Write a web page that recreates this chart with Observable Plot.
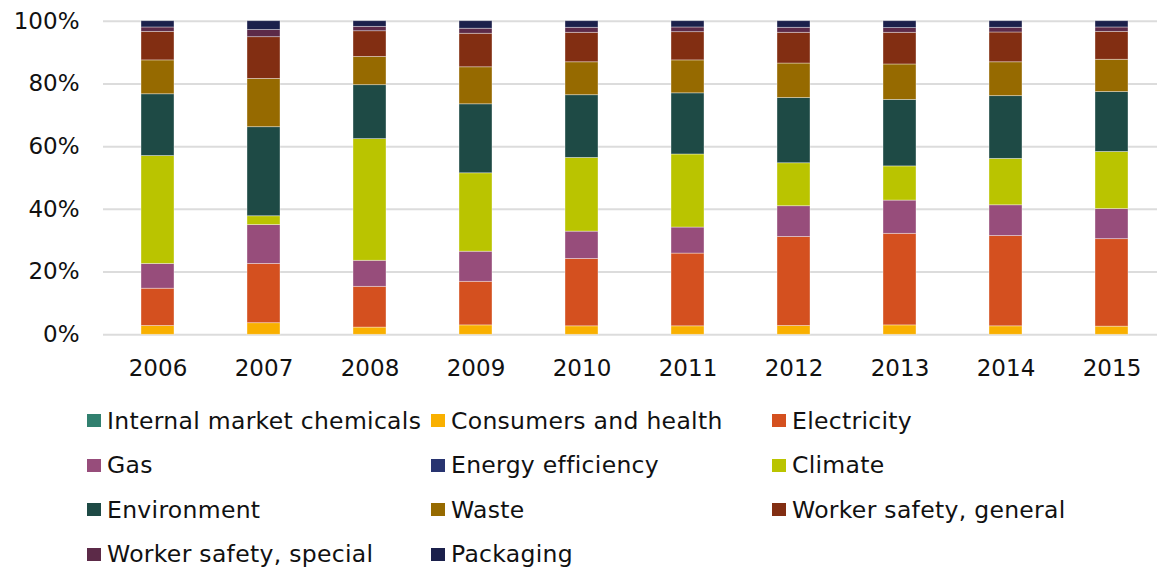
<!DOCTYPE html>
<html>
<head>
<meta charset="utf-8">
<script src="https://cdn.jsdelivr.net/npm/d3@7"></script>
<script src="https://cdn.jsdelivr.net/npm/@observablehq/plot@0.6"></script>
<style>
  html, body { margin: 0; padding: 0; background: #fff; }
  body { width: 1157px; height: 572px; overflow: hidden; font-family: "DejaVu Sans", Verdana, sans-serif; }
  #legend { display: grid; grid-template-columns: 344px 341px 300px; grid-auto-rows: 44.5px;
            padding-left: 87px; margin-top: 8.5px; font-size: 23.5px; letter-spacing: 0.3px; color: #111; }
  .item { display: flex; align-items: center; white-space: nowrap; }
  .sw { width: 14px; height: 13px; margin-right: 6px; flex: none; }
</style>
</head>
<body>
<div id="chart"></div>
<div id="legend"></div>
<script>
const years = ["2006","2007","2008","2009","2010","2011","2012","2013","2014","2015"];
const series = ["Internal market chemicals","Consumers and health","Electricity","Gas","Energy efficiency","Climate","Environment","Waste","Worker safety, general","Worker safety, special","Packaging"];
const colors = ["#31806f","#f9b000","#d4501f","#974d7b","#283470","#bac400","#1e4a45","#966a00","#822e12","#5c2a48","#1b204b"];

const internalMarketChemicals = [0,0,0,0,0,0,0,0,0,0];
const consumersAndHealth      = [2.8,3.7,2.3,3.0,2.7,2.7,2.8,3.0,2.7,2.6];
const electricity             = [11.9,18.9,13.0,13.9,21.5,23.2,28.4,29.2,28.8,27.9];
const gas                     = [7.9,12.4,8.3,9.6,8.7,8.3,9.8,10.6,9.8,9.6];
const energyEfficiency        = [0,0,0,0,0,0,0,0,0,0];
const climate                 = [34.4,2.8,38.8,25.0,23.5,23.3,13.7,10.9,14.8,18.2];
const environment             = [19.7,28.4,17.2,22.0,20.0,19.5,20.8,21.2,20.0,19.1];
const waste                   = [10.8,15.4,9.0,11.8,10.5,10.5,11.0,11.3,10.8,10.3];
const workerSafetyGeneral     = [9.1,13.3,8.2,10.7,9.4,9.0,9.8,10.1,9.5,8.9];
const workerSafetySpecial     = [1.4,2.3,1.4,1.6,1.6,1.5,1.6,1.5,1.5,1.4];
const packaging               = [2.0,2.8,1.8,2.4,2.1,2.0,2.1,2.2,2.1,2.0];

const yTicks = [0,20,40,60,80,100];

const valuesBySeries = [internalMarketChemicals, consumersAndHealth, electricity, gas, energyEfficiency,
  climate, environment, waste, workerSafetyGeneral, workerSafetySpecial, packaging];

const data = [];
series.forEach((s, i) => years.forEach((y, j) => data.push({year: y, series: s, value: valuesBySeries[i][j]})));

const chart = Plot.plot({
  width: 1157,
  height: 390,
  marginLeft: 103,
  marginRight: 0,
  marginTop: 20.7,
  marginBottom: 55.7,
  style: {fontFamily: "DejaVu Sans, Verdana, sans-serif", fontSize: "23px", color: "#111", background: "#fff"},
  x: {domain: years, paddingInner: 0.689, paddingOuter: 0.308, align: 0.56, label: null},
  y: {domain: [0, 100], label: null},
  color: {domain: series, range: colors},
  marks: [
    Plot.ruleY(yTicks, {stroke: "#dcdcdc", strokeWidth: 2}),
    Plot.barY(data, Plot.stackY({order: series}, {
      x: "year", y: "value", z: "series", fill: "series",
      stroke: "#fff", strokeOpacity: 0.45, strokeWidth: 0.8
    })),
    Plot.axisY({ticks: yTicks, tickSize: 0, tickPadding: 24, tickFormat: d => d + "%", label: null}),
    Plot.axisX({tickSize: 0, tickPadding: 25, label: null})
  ]
});
document.getElementById("chart").appendChild(chart);

const legend = document.getElementById("legend");
series.forEach((s, i) => {
  const it = document.createElement("div");
  it.className = "item";
  const sw = document.createElement("span");
  sw.className = "sw";
  sw.style.background = colors[i];
  const t = document.createElement("span");
  t.textContent = s;
  it.appendChild(sw); it.appendChild(t);
  legend.appendChild(it);
});
</script>
</body>
</html>
